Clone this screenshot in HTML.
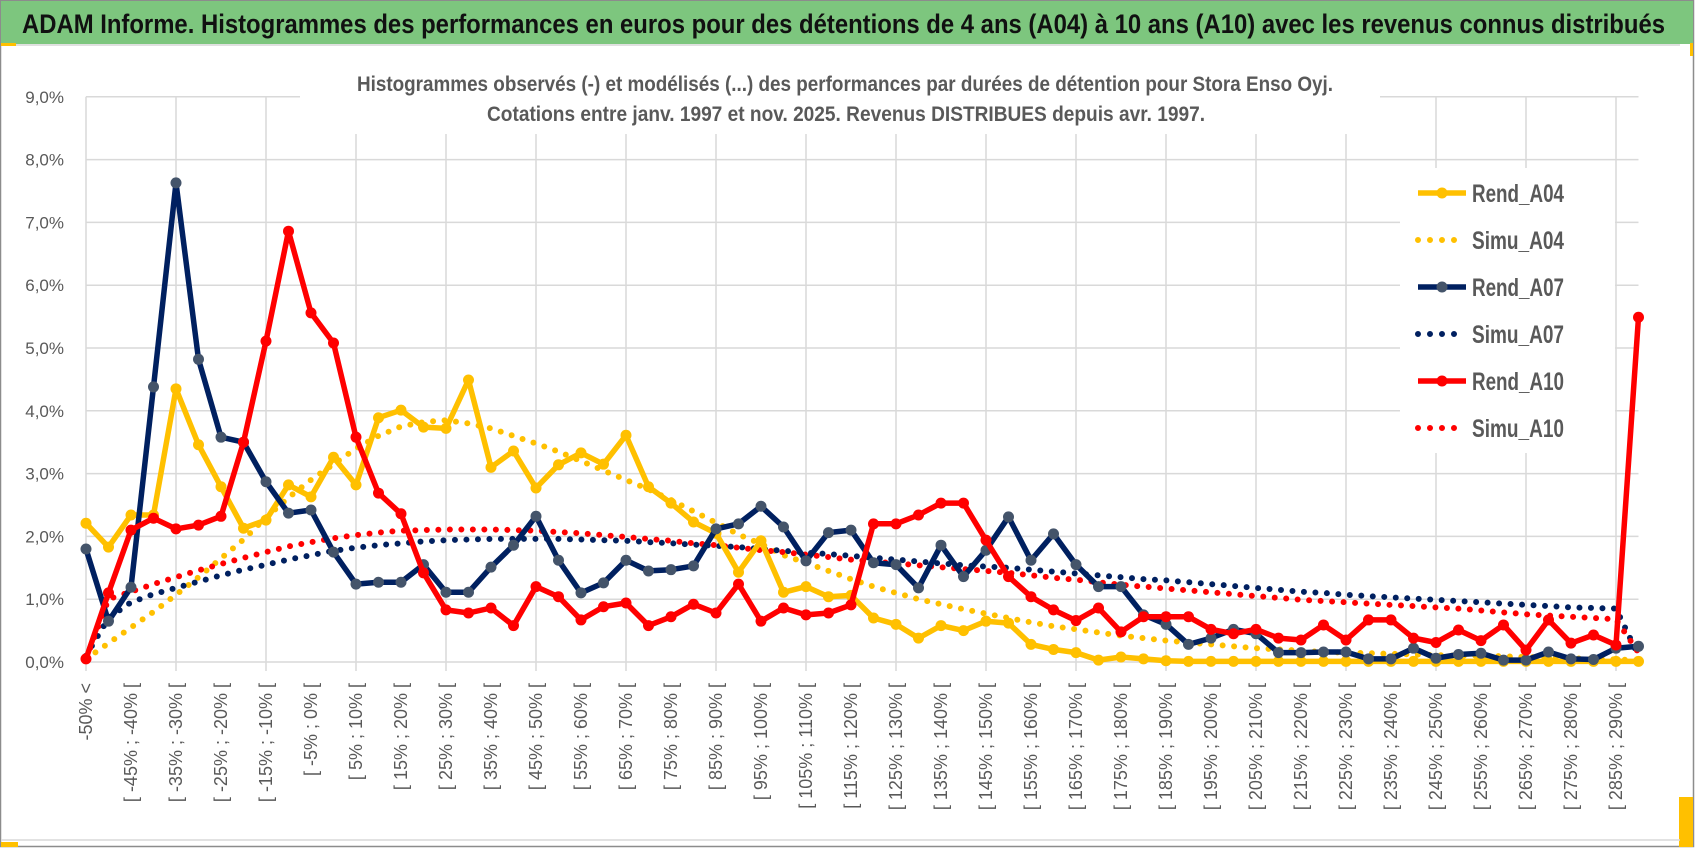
<!DOCTYPE html>
<html><head><meta charset="utf-8">
<style>
html,body{margin:0;padding:0;background:#fff;}
svg{display:block;font-family:"Liberation Sans Narrow","Liberation Sans",sans-serif;}
</style></head>
<body>
<svg id="chart" width="1698" height="854" viewBox="0 0 1698 854" xmlns="http://www.w3.org/2000/svg">
  <rect x="0" y="0" width="1698" height="854" fill="#fff"/>
  <rect x="0.5" y="0.5" width="1693" height="846" fill="none" stroke="#8c8c8c" stroke-width="1.5"/>
  <rect x="1" y="1" width="1692" height="43" fill="#7dc67e"/>
  <line x1="15" y1="45" x2="1680" y2="45" stroke="#e0e0e0" stroke-width="2"/>
  <rect x="1" y="43" width="15" height="3" fill="#ffc000"/>
  <rect x="1690" y="43" width="3" height="13" fill="#ffc000"/>
  <rect x="1" y="842" width="17" height="5" fill="#ffc000"/>
  <rect x="1679" y="797" width="14" height="50" fill="#ffc000"/>
  <line x1="1" y1="840" x2="1680" y2="840" stroke="#d9d9d9" stroke-width="1.5"/>
  <text x="22" y="33" font-size="27" font-weight="bold" fill="#111" textLength="1643" lengthAdjust="spacingAndGlyphs">ADAM Informe. Histogrammes des performances en euros pour des détentions de 4 ans (A04) à 10 ans (A10) avec les revenus connus distribués</text>
  <g id="grid"></g>
  <rect x="300" y="62" width="1080" height="72" fill="#fff"/>
  <text x="845" y="91" font-size="21" font-weight="bold" fill="#595959" text-anchor="middle" textLength="976" lengthAdjust="spacingAndGlyphs">Histogrammes observés (-) et modélisés (...) des performances par durées de détention pour Stora Enso Oyj.</text>
  <text x="846" y="121" font-size="21" font-weight="bold" fill="#595959" text-anchor="middle" textLength="718" lengthAdjust="spacingAndGlyphs">Cotations entre janv. 1997 et nov. 2025. Revenus DISTRIBUES depuis avr. 1997.</text>
  <g id="yaxis"></g>
  <g id="xaxis"></g>
  <g id="series"></g>
  <g id="legend"></g>
</svg>
<script>
const categoriesStart = -50;
const categoryCount = 70;
const yTicks = [0,1,2,3,4,5,6,7,8,9];
const yTickLabels = ["0,0%","1,0%","2,0%","3,0%","4,0%","5,0%","6,0%","7,0%","8,0%","9,0%"];
const rendA04 = [2.21,1.83,2.34,2.34,4.35,3.46,2.79,2.13,2.26,2.82,2.63,3.26,2.82,3.89,4.01,3.74,3.72,4.49,3.10,3.36,2.77,3.14,3.33,3.15,3.61,2.79,2.53,2.23,2.05,1.43,1.93,1.11,1.20,1.04,1.06,0.70,0.60,0.38,0.58,0.50,0.65,0.62,0.28,0.20,0.15,0.03,0.08,0.05,0.02,0.01,0.01,0.01,0.01,0.01,0.01,0.01,0.01,0.01,0.01,0.01,0.01,0.01,0.01,0.01,0.01,0.01,0.01,0.01,0.01,0.01];
const simuA04 = [0.05,0.30,0.55,0.80,1.07,1.35,1.65,1.95,2.30,2.62,2.90,3.15,3.40,3.60,3.75,3.82,3.85,3.80,3.72,3.60,3.48,3.35,3.20,3.05,2.90,2.75,2.58,2.40,2.22,2.03,1.88,1.70,1.58,1.45,1.32,1.20,1.10,1.00,0.92,0.84,0.77,0.70,0.63,0.57,0.52,0.47,0.42,0.38,0.34,0.31,0.28,0.25,0.22,0.20,0.18,0.16,0.15,0.14,0.13,0.12,0.11,0.10,0.10,0.09,0.08,0.07,0.06,0.05,0.04,0.03];
const rendA07 = [1.80,0.65,1.19,4.38,7.63,4.82,3.58,3.50,2.87,2.37,2.42,1.75,1.24,1.27,1.27,1.55,1.11,1.11,1.51,1.86,2.32,1.62,1.10,1.26,1.62,1.45,1.47,1.53,2.12,2.20,2.48,2.15,1.61,2.06,2.10,1.58,1.55,1.18,1.86,1.36,1.78,2.31,1.62,2.04,1.55,1.20,1.20,0.75,0.60,0.28,0.38,0.52,0.45,0.15,0.15,0.16,0.16,0.05,0.05,0.22,0.06,0.12,0.14,0.03,0.03,0.16,0.05,0.04,0.22,0.25];
const simuA07 = [0.10,0.70,0.95,1.08,1.18,1.28,1.38,1.47,1.55,1.63,1.70,1.77,1.82,1.86,1.89,1.92,1.94,1.95,1.96,1.96,1.96,1.96,1.95,1.94,1.93,1.91,1.89,1.87,1.85,1.83,1.80,1.77,1.74,1.72,1.69,1.66,1.63,1.60,1.57,1.54,1.52,1.50,1.47,1.44,1.41,1.38,1.35,1.32,1.30,1.27,1.24,1.21,1.18,1.15,1.12,1.10,1.07,1.05,1.03,1.01,0.99,0.97,0.95,0.93,0.91,0.89,0.87,0.86,0.85,0.10];
const rendA10 = [0.05,1.10,2.10,2.29,2.12,2.18,2.32,3.50,5.11,6.86,5.56,5.08,3.58,2.69,2.36,1.42,0.83,0.78,0.86,0.58,1.20,1.04,0.67,0.88,0.94,0.58,0.72,0.92,0.78,1.24,0.65,0.86,0.75,0.78,0.91,2.20,2.20,2.34,2.53,2.53,1.94,1.36,1.04,0.83,0.66,0.86,0.48,0.72,0.72,0.72,0.52,0.45,0.52,0.38,0.35,0.59,0.35,0.67,0.67,0.38,0.31,0.51,0.34,0.59,0.19,0.67,0.30,0.43,0.27,5.49];
const simuA10 = [0.05,1.00,1.12,1.24,1.35,1.46,1.56,1.66,1.75,1.84,1.91,1.97,2.02,2.06,2.09,2.10,2.11,2.11,2.11,2.10,2.09,2.07,2.05,2.02,1.99,1.96,1.93,1.89,1.86,1.82,1.78,1.75,1.71,1.67,1.63,1.60,1.57,1.54,1.51,1.48,1.45,1.42,1.38,1.34,1.31,1.27,1.23,1.20,1.17,1.14,1.11,1.08,1.05,1.02,0.99,0.97,0.95,0.93,0.91,0.89,0.87,0.85,0.82,0.79,0.76,0.74,0.72,0.70,0.68,0.15];
const seriesNames = ["Rend_A04","Simu_A04","Rend_A07","Simu_A07","Rend_A10","Simu_A10"];

const NS = "http://www.w3.org/2000/svg";
const X0 = 86, DX = 22.5, Y0 = 662, DY = 62.8, XEND = X0 + DX*(categoryCount-1);
function xPos(i){ return X0 + DX*i; }
function yPos(v){ return Y0 - DY*v; }
function mk(tag, attrs, parent){
  const e = document.createElementNS(NS, tag);
  for (const k in attrs) e.setAttribute(k, attrs[k]);
  parent.appendChild(e);
  return e;
}
function catLabel(i){
  if (i === 0) return categoriesStart + "% <";
  const a = categoriesStart - 5 + 5*i, b = a + 5;
  return "[ " + a + "% ; " + b + "% [";
}

const grid = document.getElementById("grid");
yTicks.forEach((t, k) => {
  const l = mk("line", {x1:X0, y1:yPos(t), x2:XEND, y2:yPos(t), stroke:"#d9d9d9", "stroke-width":1.5}, grid);
  
  
});
for (let i = 0; i < categoryCount; i += 4) {
  const l = mk("line", {x1:xPos(i), y1:yPos(9), x2:xPos(i), y2:Y0+9, stroke:"#d9d9d9", "stroke-width":1.5}, grid);
  
  
}

const yaxis = document.getElementById("yaxis");
yTicks.forEach((t, k) => {
  const tx = mk("text", {x:64, y:yPos(t)+6, "font-size":17, fill:"#595959", "text-anchor":"end"}, yaxis);
  tx.textContent = yTickLabels[k];
  
  
});

const xaxis = document.getElementById("xaxis");
for (let i = 0; i < categoryCount; i += 2) {
  const x = xPos(i) + 6;
  const tx = mk("text", {x:0, y:0, "font-size":18, fill:"#595959", "text-anchor":"end", "font-family":"Liberation Sans, sans-serif", transform:"translate(" + x + ",683) rotate(-90)"}, xaxis);
  tx.textContent = catLabel(i);
  
  
}

const series = document.getElementById("series");
function pts(arr){ return arr.map((v,i) => xPos(i).toFixed(1) + "," + yPos(v).toFixed(1)).join(" "); }
function dotted(arr, color, name){
  const p = mk("polyline", {points:pts(arr), fill:"none", stroke:color, "stroke-width":6, "stroke-linecap":"round", "stroke-dasharray":"0 11.5"}, series);
  
  
}
function solid(arr, color, markerColor, name){
  const g = mk("g", {}, series);
  
  
  const p = mk("polyline", {points:pts(arr), fill:"none", stroke:color, "stroke-width":5.5, "stroke-linejoin":"round"}, g);
  
  
  arr.forEach((v,i) => {
    const c = mk("circle", {cx:xPos(i), cy:yPos(v), r:5.5, fill:markerColor}, g);
    
    
  });
}
dotted(simuA04, "#ffc000", "simu-a04-line");
dotted(simuA07, "#002060", "simu-a07-line");
dotted(simuA10, "#ff0000", "simu-a10-line");
solid(rendA04, "#ffc000", "#ffc000", "rend-a04");
solid(rendA07, "#002060", "#44546a", "rend-a07");
solid(rendA10, "#ff0000", "#ff0000", "rend-a10");

const legend = document.getElementById("legend");
const lbg = mk("rect", {x:1400, y:168, width:215, height:285, fill:"#fff"}, legend);


const legColors = ["#ffc000","#ffc000","#002060","#002060","#ff0000","#ff0000"];
const legMarkers = ["#ffc000",null,"#44546a",null,"#ff0000",null];
seriesNames.forEach((n, k) => {
  const y = 193 + 47*k;
  const g = mk("g", {}, legend);
  
  
  if (legMarkers[k]) {
    mk("line", {x1:1418, y1:y, x2:1466, y2:y, stroke:legColors[k], "stroke-width":5.5}, g);
    mk("circle", {cx:1442, cy:y, r:5.5, fill:legMarkers[k]}, g);
  } else {
    mk("line", {x1:1418, y1:y, x2:1466, y2:y, stroke:legColors[k], "stroke-width":6, "stroke-linecap":"round", "stroke-dasharray":"0 12"}, g);
  }
  const t = mk("text", {x:1472, y:y+9, "font-size":25, "font-weight":"bold", fill:"#595959", textLength:92, lengthAdjust:"spacingAndGlyphs"}, g);
  t.textContent = n;
  
  
});
</script>
</body></html>
